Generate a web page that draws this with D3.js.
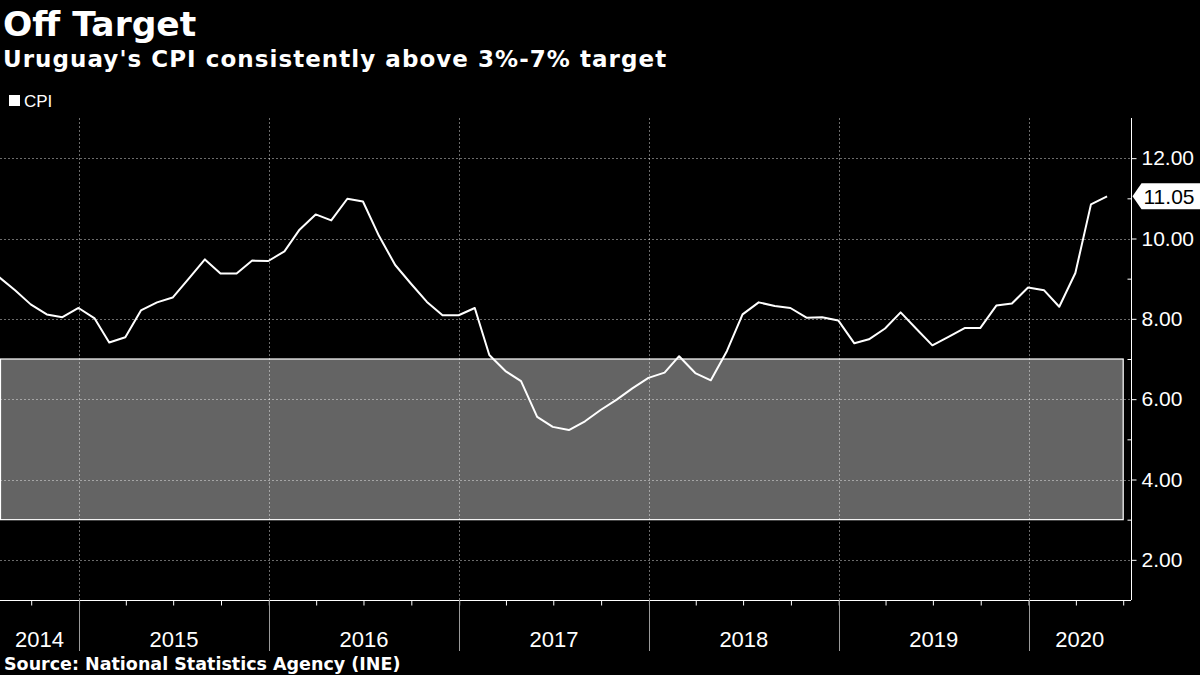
<!DOCTYPE html>
<html>
<head>
<meta charset="utf-8">
<script src="https://cdn.jsdelivr.net/npm/d3@7"></script>
<style>
  html, body { margin: 0; padding: 0; background: #000; }
  svg { display: block; }
</style>
</head>
<body>
<svg id="chart" width="1200" height="675"></svg>
<script>
// ---------------- data ----------------
const titleText = "Off Target";
const subtitleText = "Uruguay's CPI consistently above 3%-7% target";
const sourceText = "Source: National Statistics Agency (INE)";
const seriesName = "CPI";

// monthly observations (plotted at month end)
const months = [
  "2014-07","2014-08","2014-09","2014-10","2014-11","2014-12",
  "2015-01","2015-02","2015-03","2015-04","2015-05","2015-06","2015-07","2015-08","2015-09","2015-10","2015-11","2015-12",
  "2016-01","2016-02","2016-03","2016-04","2016-05","2016-06","2016-07","2016-08","2016-09","2016-10","2016-11","2016-12",
  "2017-01","2017-02","2017-03","2017-04","2017-05","2017-06","2017-07","2017-08","2017-09","2017-10","2017-11","2017-12",
  "2018-01","2018-02","2018-03","2018-04","2018-05","2018-06","2018-07","2018-08","2018-09","2018-10","2018-11","2018-12",
  "2019-01","2019-02","2019-03","2019-04","2019-05","2019-06","2019-07","2019-08","2019-09","2019-10","2019-11","2019-12",
  "2020-01","2020-02","2020-03","2020-04","2020-05"
];
const cpi = [
  9.04, 8.71, 8.36, 8.11, 8.04, 8.27,
  8.01, 7.41, 7.54, 8.21, 8.41, 8.53, 9.00, 9.48, 9.13, 9.13, 9.45, 9.44,
  9.68, 10.22, 10.60, 10.45, 10.99, 10.92, 10.06, 9.34, 8.88, 8.42, 8.09, 8.09,
  8.27, 7.10, 6.70, 6.45, 5.56, 5.31, 5.23, 5.45, 5.73, 5.99, 6.27, 6.53,
  6.66, 7.07, 6.65, 6.47, 7.20, 8.11, 8.41, 8.32, 8.27, 8.03, 8.04, 7.96,
  7.39, 7.49, 7.76, 8.16, 7.74, 7.34, 7.55, 7.77, 7.77, 8.33, 8.38, 8.78,
  8.71, 8.30, 9.14, 10.85, 11.05
];
const targetBand = [3, 7];
const yTicks = [2, 4, 6, 8, 10, 12];
const yMinorTicks = [3, 5, 7, 9, 11];
const yearLabels = ["2014", "2015", "2016", "2017", "2018", "2019", "2020"];
const xDomain = ["2014-08-02", "2020-07-16"];
const yDomain = [1, 13];

// ---------------- layout ----------------
const W = 1200, H = 675;
const plot = { left: 0, right: 1131, top: 118, bottom: 600 };
const svg = d3.select("#chart");
svg.append("rect").attr("width", W).attr("height", H).attr("fill", "#000");

const parseMonthEnd = s => { const [y, m] = s.split("-").map(Number); return new Date(y, m, 0); };
const parseDay = s => { const [y, m, d] = s.split("-").map(Number); return new Date(y, m - 1, d); };

const data = months.map((m, i) => ({ date: parseMonthEnd(m), value: cpi[i] }));

const x = d3.scaleTime().domain(xDomain.map(parseDay)).range([plot.left, plot.right]);
const y = d3.scaleLinear().domain(yDomain).range([plot.bottom, plot.top]);

const sansUI = "'Liberation Sans', Arial, sans-serif";
const sansBold = "'DejaVu Sans', Verdana, sans-serif";

// titles
svg.append("text").attr("x", 3).attr("y", 36).attr("fill", "#fff")
  .attr("font-family", sansBold).attr("font-weight", "bold").attr("font-size", 34.5).text(titleText);
svg.append("text").attr("x", 3).attr("y", 67).attr("fill", "#fff")
  .attr("font-family", sansBold).attr("font-weight", "bold").attr("font-size", 23)
  .attr("letter-spacing", 1.05).text(subtitleText);

// legend
svg.append("rect").attr("x", 9).attr("y", 95).attr("width", 11).attr("height", 11).attr("fill", "#fff");
svg.append("text").attr("x", 24).attr("y", 106.5).attr("fill", "#fff")
  .attr("font-family", sansUI).attr("font-size", 17).text(seriesName);

// target band
const quarterTicks = x.ticks(d3.timeMonth.every(3));
const bandRight = x(quarterTicks[quarterTicks.length - 1]);
svg.append("rect")
  .attr("x", plot.left + 0.5).attr("y", y(targetBand[1]))
  .attr("width", bandRight - plot.left - 0.5).attr("height", y(targetBand[0]) - y(targetBand[1]))
  .attr("fill", "#646464").attr("stroke", "#fff").attr("stroke-width", 1.2);

// gridlines
const grid = svg.append("g").attr("stroke", "rgba(255,255,255,0.42)").attr("stroke-width", 1)
  .attr("stroke-dasharray", "2,2");
grid.selectAll("line.h").data(yTicks).join("line").attr("class", "h")
  .attr("x1", plot.left).attr("x2", plot.right)
  .attr("y1", d => Math.round(y(d)) + 0.5).attr("y2", d => Math.round(y(d)) + 0.5);
const yearStarts = x.ticks(d3.timeYear.every(1)).filter(d => x(d) > plot.left + 2);
grid.selectAll("line.v").data(yearStarts).join("line").attr("class", "v")
  .attr("x1", d => Math.round(x(d)) + 0.5).attr("x2", d => Math.round(x(d)) + 0.5)
  .attr("y1", plot.top).attr("y2", plot.bottom);

// series line
const line = d3.line().x(d => x(d.date)).y(d => y(d.value));
svg.append("path").datum(data).attr("d", line)
  .attr("fill", "none").attr("stroke", "#fff").attr("stroke-width", 2)
  .attr("stroke-linejoin", "round");

// y axis (right)
const yAxisG = svg.append("g").attr("transform", `translate(${plot.right + 0.5},0)`)
  .call(d3.axisRight(y).tickValues(yTicks).tickSize(5).tickPadding(5).tickFormat(d3.format(".2f")));
yAxisG.select(".domain").attr("stroke", "#fff").attr("d", `M0,${plot.top}V${plot.bottom}`);
yAxisG.selectAll(".tick line").attr("stroke", "#fff");
yAxisG.selectAll(".tick text").attr("fill", "#fff").attr("font-family", sansUI).attr("font-size", 21);
const yMinorG = svg.append("g").attr("transform", `translate(${plot.right + 0.5},0)`)
  .call(d3.axisLeft(y).tickValues(yMinorTicks).tickSize(4).tickFormat(""));
yMinorG.select(".domain").remove();
yMinorG.selectAll(".tick line").attr("stroke", "#fff");

// last value marker
const last = data[data.length - 1];
const ly = y(last.value);
const lx = plot.right + 1.5;
svg.append("path")
  .attr("d", `M${lx},${ly} L${lx + 9},${ly - 13} L${W},${ly - 13} L${W},${ly + 13} L${lx + 9},${ly + 13} Z`)
  .attr("fill", "#fff");
svg.append("text").attr("x", lx + 11).attr("y", ly).attr("dy", "0.36em")
  .attr("fill", "#000").attr("font-family", sansUI).attr("font-size", 21)
  .text(d3.format(".2f")(last.value));

// x axis
const xAxisG = svg.append("g").attr("transform", `translate(0,${plot.bottom + 0.5})`)
  .call(d3.axisBottom(x).tickValues(quarterTicks).tickSize(5).tickFormat(""));
xAxisG.select(".domain").attr("stroke", "#fff").attr("d", `M${plot.left},0H${plot.right}`);
xAxisG.selectAll(".tick line").attr("stroke", "#fff");

// year dividers below axis
svg.append("g").selectAll("line").data(yearStarts).join("line")
  .attr("x1", d => Math.round(x(d)) + 0.5).attr("x2", d => Math.round(x(d)) + 0.5)
  .attr("y1", plot.bottom).attr("y2", 651)
  .attr("stroke", "#9a9a9a").attr("stroke-width", 1);

// year labels centred in their visible span
svg.append("g").selectAll("text").data(yearLabels).join("text")
  .attr("x", d => {
    const a = Math.max(plot.left, x(new Date(+d, 0, 1)));
    const b = Math.min(plot.right, x(new Date(+d + 1, 0, 1)));
    return (a + b) / 2;
  })
  .attr("y", 647).attr("text-anchor", "middle").attr("fill", "#fff")
  .attr("font-family", sansUI).attr("font-size", 22).text(d => d);

// source
svg.append("text").attr("x", 4).attr("y", 670).attr("fill", "#fff")
  .attr("font-family", sansBold).attr("font-weight", "bold").attr("font-size", 17.5).text(sourceText);
</script>
</body>
</html>
